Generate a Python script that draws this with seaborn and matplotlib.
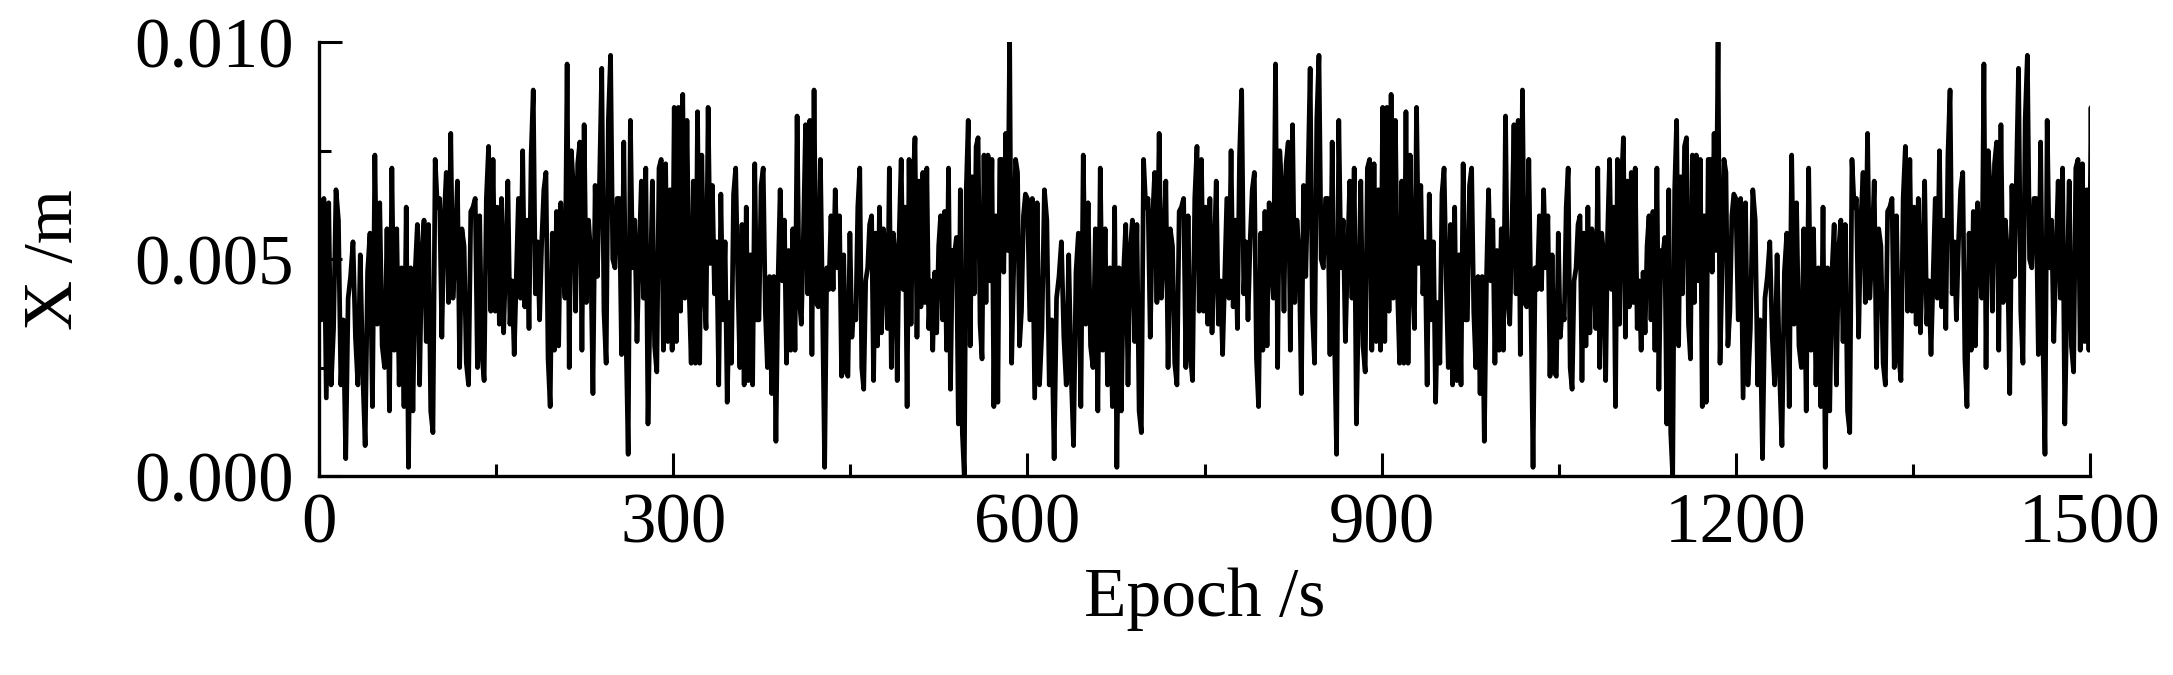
import numpy as np
import pandas as pd
import matplotlib
matplotlib.use("Agg")
import matplotlib.pyplot as plt
from matplotlib.ticker import MultipleLocator, FormatStrFormatter
import seaborn as sns

# ---- data (values in mm; the trace repeats every 600 epochs) ----
period = 600
seg_bounds = [0, 72, 147.4, 222.7, 297.3, 448, 600]
seg_a = [6.4, 3.6, 6.4, 1.8, 6.3, 2.1, 3.4, 6.6, 5.9, 2.1, 3.6, 0.4, 4.1, 4.6, 5.4, 3.2, 2.1, 5.1,
         2.4, 0.7, 4.7, 5.6, 1.6, 7.4, 3.5, 6.3, 3.0, 2.5, 5.7, 1.5, 7.1, 2.9, 5.7, 2.1, 4.8]
seg_b = [1.6, 6.2, 0.2, 4.8, 1.5, 4.7, 5.8, 2.1, 5.2, 5.9, 3.1, 5.8, 1.5, 1.0, 7.3, 6.2, 6.4, 3.2,
         5.9, 7.0, 4.0, 7.9, 4.1, 5.2, 6.8, 2.5, 5.7, 5.3, 2.6, 2.1, 6.1, 6.2, 6.4, 2.5, 6.0, 2.8,
         2.2, 6.4, 7.6, 3.8]
seg_c = [7.3, 3.8, 6.2, 3.5, 6.4, 3.3, 5.0, 6.8, 3.5, 4.5, 2.8, 4.6, 6.4, 4.1, 7.5, 3.9, 5.9, 3.4,
         7.4, 8.9, 4.2, 5.4, 3.6, 5.4, 6.6, 7.0, 2.7, 1.6, 5.6, 2.9, 6.1, 3.0, 6.3, 4.9, 4.1, 9.5,
         2.5, 7.5, 6.6, 3.8, 7.2, 7.7]
seg_d = [2.9, 8.1, 4.0, 5.9, 5.1, 1.9, 6.7, 4.6, 6.8, 9.4, 3.8, 2.6, 8.2, 9.7, 5.0, 4.8, 6.4, 6.4,
         2.8, 7.7, 3.3, 0.5, 8.2, 4.8, 5.9, 3.1, 5.1, 6.8, 4.1, 7.1, 1.2, 4.1, 6.8, 3.0, 2.4, 7.1,
         7.3, 2.9, 7.2, 3.1]
seg_e = [6.6, 2.9, 8.5, 3.1, 8.5, 3.8, 8.8, 4.1, 8.2, 4.3, 2.6, 6.8, 2.6, 8.4, 2.6, 7.4, 4.5, 3.4,
         8.5, 4.9, 6.7, 4.2, 5.4, 2.1, 6.5, 3.6, 5.4, 1.7, 4.0, 2.6, 6.5, 7.1, 4.5, 2.5, 5.8, 2.1,
         6.2, 2.2, 5.1, 2.1, 7.2, 3.6, 3.6, 6.7, 7.1, 3.8, 2.5, 4.6, 1.9, 4.6, 0.8, 4.5, 6.6, 4.5,
         5.9, 2.6, 5.2, 2.9, 5.7, 2.9, 8.3, 4.1, 3.5, 5.6, 8.1, 4.2, 8.2, 2.8, 8.9, 4.0, 3.9, 7.3,
         3.9, 0.2, 4.8, 4.3, 6.0, 4.3, 6.6, 4.8, 6.0, 2.3, 5.1, 2.4]
seg_f = [2.3, 5.6, 3.2, 3.9, 3.6, 6.2, 7.1, 2.5, 2.0, 4.5, 4.8, 5.8, 6.0, 2.2, 5.6, 3.0, 6.2, 3.3,
         5.7, 5.1, 3.4, 7.1, 2.5, 5.6, 5.1, 2.2, 5.6, 7.3, 4.3, 6.2, 1.6, 7.3, 3.5, 6.7, 7.8, 3.2,
         6.8, 3.9, 7.0, 4.0, 7.1, 3.4, 4.5, 2.9, 4.7, 3.3, 5.3, 6.0, 3.6, 6.1, 2.9, 7.1, 2.0, 5.2,
         5.1, 5.5, 1.2, 6.6, 1.0, 0.0, 6.6, 8.2, 3.0, 6.9, 4.2, 7.6, 7.8, 3.5, 2.7, 7.4, 4.0, 7.4,
         4.5, 7.3, 1.6, 6.0, 1.7, 7.3, 7.3, 4.7, 7.9, 5.2, 10.0, 2.6, 4.7, 7.3, 7.0, 3.0, 3.8, 6.0,
         6.5]
segments = [seg_a, seg_b, seg_c, seg_d, seg_e, seg_f]

x_ticks = [0, 300, 600, 900, 1200, 1500]
y_ticks = [0.000, 0.005, 0.010]
x_label = "Epoch /s"
y_label = "X /m"

# one period of the trace, each read segment spread over its epoch span
base_t = np.concatenate([np.linspace(seg_bounds[i], seg_bounds[i + 1], len(s), endpoint=False)
                         for i, s in enumerate(segments)])
base_v = np.concatenate([np.asarray(s, float) for s in segments]) * 1e-3
# the reference repeats the same 600-epoch block
t = np.concatenate([base_t + k * period for k in range(3)])
v = np.concatenate([base_v] * 3)
keep = t <= 1505
df = pd.DataFrame({"epoch": t[keep], "x": v[keep]})

# ---- style ----
sns.set_style("ticks")
plt.rcParams["font.family"] = ["Liberation Serif", "DejaVu Serif"]
plt.rcParams["text.color"] = "black"
plt.rcParams["axes.labelcolor"] = "black"
plt.rcParams["xtick.color"] = "black"
plt.rcParams["ytick.color"] = "black"
plt.rcParams["axes.edgecolor"] = "black"

fig = plt.figure(figsize=(21.73, 6.75), dpi=100)
ax = fig.add_axes([319 / 2173, 1 - 476 / 675, (2090 - 319) / 2173, (476 - 42.3) / 675])

sns.lineplot(data=df, x="epoch", y="x", ax=ax, color="black", linewidth=3.4,
             estimator=None, sort=False)

ax.set_xlim(0, 1500)
ax.set_ylim(0, 0.010)
ax.set_xticks(x_ticks)
ax.set_yticks(y_ticks)
ax.xaxis.set_minor_locator(MultipleLocator(150))
ax.yaxis.set_minor_locator(MultipleLocator(0.0025))
ax.yaxis.set_major_formatter(FormatStrFormatter("%.3f"))

for side in ["top", "right"]:
    ax.spines[side].set_visible(False)
for side in ["left", "bottom"]:
    ax.spines[side].set_linewidth(2.4)
    ax.spines[side].set_color("black")

ax.tick_params(which="major", direction="in", length=16.5, width=2.2, colors="black",
               labelsize=51, labelcolor="black")
ax.tick_params(which="minor", direction="in", length=8.6, width=2.2, colors="black")
ax.tick_params(axis="y", which="major", pad=18)
ax.tick_params(axis="x", which="major", pad=12)

ax.set_xlabel(x_label, fontsize=50, labelpad=7, color="black")
ax.set_ylabel(y_label, fontsize=50, labelpad=34, color="black")

fig.savefig("out.png", dpi=100, facecolor="white")
